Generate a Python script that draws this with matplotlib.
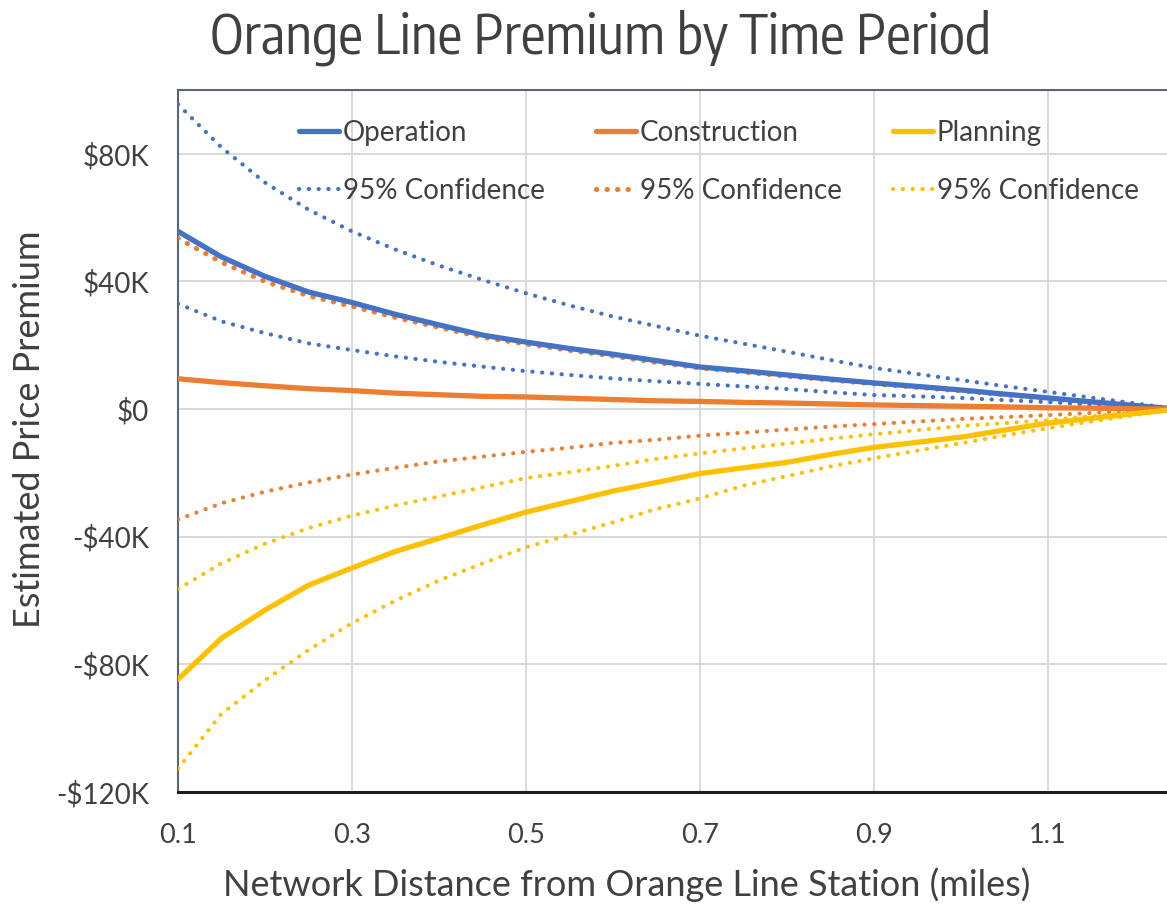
import matplotlib
matplotlib.use("Agg")
import matplotlib.pyplot as plt
from matplotlib.ticker import FuncFormatter, FixedLocator
from matplotlib import font_manager

# ---- data (values in $K) ----
distance = [0.10, 0.15, 0.20, 0.25, 0.30, 0.35, 0.40, 0.45, 0.50, 0.55, 0.60, 0.65,
            0.70, 0.75, 0.80, 0.85, 0.90, 0.95, 1.00, 1.05, 1.10, 1.15, 1.20, 1.25]

operation = [55.7, 47.7, 41.6, 36.7, 33.4, 29.7, 26.4, 23.2, 21.0, 19.0, 17.2, 15.2,
             13.2, 12.0, 10.7, 9.4, 8.2, 7.1, 6.0, 4.7, 3.5, 2.3, 1.1, 0.0]
operation_hi = [95.5, 82.0, 71.0, 62.5, 55.7, 50.0, 45.0, 40.5, 36.3, 32.5, 29.0, 26.0,
                23.0, 20.5, 18.0, 15.4, 12.9, 11.0, 9.1, 7.2, 5.4, 3.6, 1.8, 0.0]
operation_lo = [33.0, 27.5, 23.8, 20.6, 18.5, 16.5, 14.8, 13.3, 11.9, 10.7, 9.6, 8.7,
                7.9, 7.1, 6.3, 5.3, 4.4, 4.0, 3.5, 2.8, 2.2, 1.4, 0.7, 0.0]

construction = [9.5, 8.3, 7.3, 6.4, 5.8, 5.0, 4.5, 4.0, 3.8, 3.4, 3.0, 2.6,
                2.4, 2.1, 1.9, 1.6, 1.3, 1.1, 0.9, 0.7, 0.4, 0.3, 0.1, 0.0]
construction_hi = [53.5, 46.0, 40.0, 35.5, 32.2, 28.7, 25.6, 22.5, 20.4, 18.4, 16.6, 14.6,
                   12.9, 11.6, 10.3, 9.1, 7.9, 6.8, 5.7, 4.5, 3.3, 2.2, 1.1, 0.0]
construction_lo = [-34.6, -29.5, -25.9, -23.0, -20.5, -18.4, -16.4, -14.9, -13.4, -12.1, -10.6, -9.6,
                   -8.3, -7.4, -6.4, -5.5, -4.7, -3.9, -3.1, -2.5, -1.9, -1.2, -0.6, 0.0]

planning = [-84.7, -71.8, -63.0, -55.2, -49.8, -44.6, -40.5, -36.3, -32.3, -29.0, -25.7, -23.0,
            -20.2, -18.4, -16.7, -14.2, -12.0, -10.4, -8.8, -6.6, -4.4, -2.9, -1.4, 0.0]
planning_hi = [-56.4, -48.3, -42.2, -37.3, -33.4, -30.2, -27.4, -24.5, -21.6, -19.8, -17.8, -15.6,
               -13.9, -12.3, -10.8, -9.3, -7.9, -6.6, -5.3, -4.4, -3.5, -2.2, -1.0, 0.0]
planning_lo = [-112.7, -95.5, -85.0, -75.5, -67.1, -60.0, -53.7, -48.4, -43.3, -39.4, -35.5, -31.3,
               -28.0, -24.0, -21.0, -18.0, -15.4, -13.0, -10.7, -8.3, -6.0, -3.9, -1.9, 0.0]

x_ticks = [0.1, 0.3, 0.5, 0.7, 0.9, 1.1]
y_ticks = [-120, -80, -40, 0, 40, 80]

title = "Orange Line Premium by Time Period"
xlabel = "Network Distance from Orange Line Station (miles)"
ylabel = "Estimated Price Premium"

BLUE = "#4472C4"
ORANGE = "#ED7D31"
YELLOW = "#FFC000"
TEXT = "#404040"

names = {f.name for f in font_manager.fontManager.ttflist}


def pick(prefs):
    for p in prefs:
        if p in names:
            return p
    return "DejaVu Sans"


narrow = pick(["Encode Sans Condensed", "Fira Sans Condensed", "Roboto Condensed",
               "Open Sans Condensed", "Archivo Narrow", "PT Sans Narrow",
               "Barlow Semi Condensed", "Liberation Sans Narrow", "Abel"])
body = pick(["Lato", "Open Sans"])

fig = plt.figure(figsize=(11.67, 9.07), dpi=100)
ax = fig.add_axes([178 / 1167, 1 - 792 / 907, 1 - 178 / 1167, (792 - 90) / 907])

solid_kw = dict(lw=3.8, solid_capstyle="round", solid_joinstyle="round")
dot_kw = dict(lw=3.0, linestyle=(0, (0.05, 2.3)), dash_capstyle="round")

ax.plot(distance, operation, color=BLUE, label="Operation", zorder=5, **solid_kw)
ax.plot(distance, construction, color=ORANGE, label="Construction", zorder=5, **solid_kw)
ax.plot(distance, planning, color=YELLOW, label="Planning", zorder=5, **solid_kw)
ax.plot(distance, operation_hi, color=BLUE, label="95% Confidence", zorder=4, **dot_kw)
ax.plot(distance, operation_lo, color=BLUE, zorder=4, **dot_kw)
ax.plot(distance, construction_hi, color=ORANGE, label="95% Confidence", zorder=4,
        lw=3.7, linestyle=(0, (0.05, 2.0)), dash_capstyle="round")
ax.plot(distance, construction_lo, color=ORANGE, zorder=4, **dot_kw)
ax.plot(distance, planning_hi, color=YELLOW, label="95% Confidence", zorder=4, **dot_kw)
ax.plot(distance, planning_lo, color=YELLOW, zorder=4, **dot_kw)

ax.set_xlim(0.1, 1.237)
ax.set_ylim(-120, 100)
ax.xaxis.set_major_locator(FixedLocator(x_ticks))
ax.yaxis.set_major_locator(FixedLocator(y_ticks))


def money(v, pos):
    v = int(round(v))
    if v == 0:
        return "$0"
    return ("-" if v < 0 else "") + "$" + str(abs(v)) + "K"


ax.yaxis.set_major_formatter(FuncFormatter(money))
ax.xaxis.set_major_formatter(FuncFormatter(lambda v, p: f"{v:.1f}"))
ax.grid(True, color="#d9d9d9", lw=1.4, zorder=0)
ax.set_axisbelow(True)
ax.tick_params(length=0, colors=TEXT)
ax.tick_params(axis="x", pad=22)
ax.tick_params(axis="y", pad=21)
for lab in ax.get_xticklabels():
    lab.set_fontfamily(body)
    lab.set_fontsize(19.5)
for lab in ax.get_yticklabels():
    lab.set_fontfamily(body)
    lab.set_fontsize(20)

for side in ("left", "top"):
    ax.spines[side].set_color("#5b6573")
    ax.spines[side].set_linewidth(1.5)
ax.spines["bottom"].set_color("#1f1f1f")
ax.spines["bottom"].set_linewidth(2.2)
ax.spines["right"].set_visible(False)

fig.text(627 / 1167, 1 - 885 / 907, xlabel, fontfamily=body, fontsize=26, color=TEXT,
         ha="center", va="center")
fig.text(30 / 1167, 1 - 429 / 907, ylabel, fontfamily=body, fontsize=26, color=TEXT,
         ha="center", va="center", rotation=90)
fig.text(601 / 1167, 1 - 38 / 907, title, fontfamily=narrow, fontsize=39.5, color=TEXT,
         ha="center", va="center")

handles, labels = ax.get_legend_handles_labels()
order = [0, 3, 1, 4, 2, 5]
leg = ax.legend([handles[i] for i in order], [labels[i] for i in order], ncol=3,
                loc="upper left", bbox_to_anchor=(0.097, 0.993), frameon=False,
                prop={"family": body, "size": 20}, handlelength=1.45, handletextpad=0.12,
                columnspacing=1.85, labelspacing=1.15, labelcolor=TEXT)

fig.savefig("out.png", dpi=100)
